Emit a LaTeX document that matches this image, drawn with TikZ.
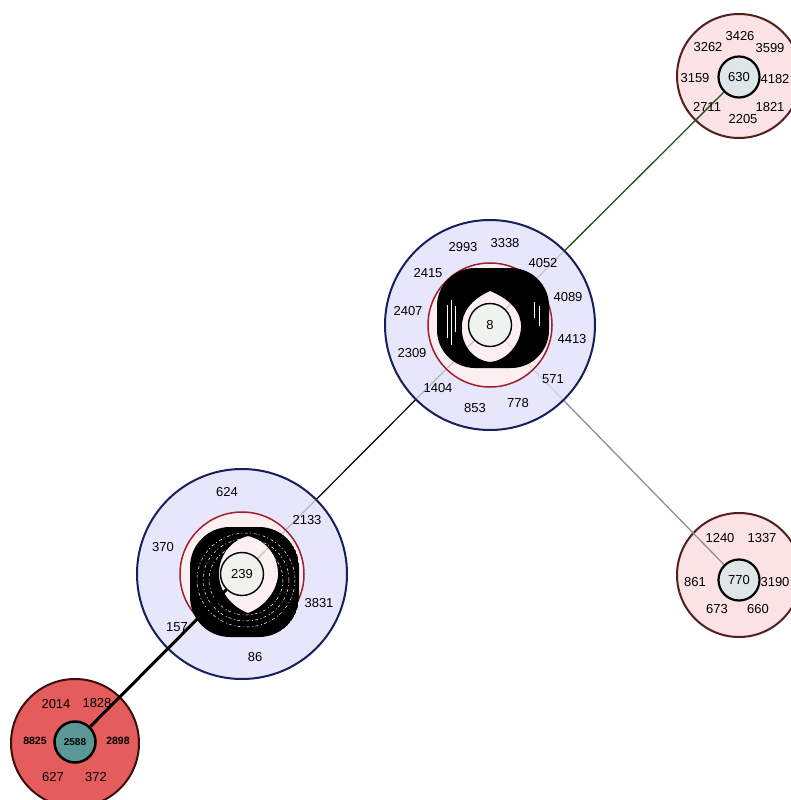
\documentclass[tikz,border=0pt]{standalone}
\usepackage{fontspec}
\setmainfont{Liberation Sans}
\pgfdeclarelayer{pinkl}
\pgfdeclarelayer{linel}
\pgfdeclarelayer{bluel}
\pgfdeclarelayer{topl}
\pgfsetlayers{pinkl,linel,bluel,topl,main}
\definecolor{bluefill}{RGB}{226,226,250}
\definecolor{blueedge}{RGB}{25,30,95}
\definecolor{ringedge}{RGB}{160,30,45}
\definecolor{ringfill}{RGB}{252,236,238}
\definecolor{pinkfill}{RGB}{250,226,229}
\definecolor{pinkedge}{RGB}{85,30,30}
\definecolor{corefill}{RGB}{222,230,232}
\definecolor{corepale}{RGB}{238,243,238}
\definecolor{redfill}{RGB}{228,92,92}
\definecolor{rededge}{RGB}{60,15,15}
\definecolor{tealfill}{RGB}{90,152,152}
\definecolor{greenline}{RGB}{30,80,30}
\definecolor{grayline}{RGB}{150,140,140}
\tikzset{
  core/.style={circle, draw=black, line width=1.4pt, minimum size=43pt, inner sep=0pt, fill=corepale, font=\fontsize{13}{14}\selectfont},
  pcore/.style={circle, draw=black, line width=2.2pt, minimum size=41pt, inner sep=0pt, fill=corefill, font=\fontsize{13}{14}\selectfont},
  pinkcl/.style={circle, draw=pinkedge, line width=2pt, minimum size=124pt, inner sep=0pt, fill=pinkfill},
  blueout/.style={circle, draw=blueedge, line width=2pt, minimum size=210pt, inner sep=0pt},
  ringout/.style={circle, draw=ringedge, line width=1.5pt, minimum size=124pt, inner sep=0pt},
  lab/.style={inner sep=0pt, font=\fontsize{13}{14}\selectfont},
  smudge/.style={inner sep=0pt, font=\bfseries\fontsize{10.5}{12}\selectfont},
  blob/.style={fill=black, even odd rule},
  fleck/.style={draw=white, line width=0.7pt},
}
\begin{document}
\begin{tikzpicture}[x=1pt,y=-1pt]
\useasboundingbox (0,0) rectangle (791,800);

% core circles
\node[core] (i8) at (490,325) {8};
\node[core] (i239) at (242,574) {239};
\node[pcore] (i630) at (739,77) {630};
\node[pcore] (i770) at (739,580) {770};
\node[pcore, fill=tealfill, line width=2.5pt] (ired) at (75,742) {\bfseries\fontsize{10}{12}\selectfont 2588};

% pink clusters
\begin{pgfonlayer}{pinkl}
\fill[white] (0,0) rectangle (791,800);
\node[pinkcl] (o630) at (739,76) {};
\node[pinkcl] (o770) at (739,575) {};
\node[pinkcl, fill=redfill, draw=rededge, minimum size=128pt] (ored) at (75,743) {};
\end{pgfonlayer}

% connectors under the blue clusters
\begin{pgfonlayer}{linel}
\draw[greenline, line width=1.3pt] (i630) -- (i8);
\draw[black, line width=1.2pt] (i8) -- (i239);
\draw[grayline, line width=1.3pt] (i8) -- (i770);
\end{pgfonlayer}

% blue clusters
\begin{pgfonlayer}{bluel}
\foreach \cx/\cy in {490/325, 242/574}{
  \fill[bluefill, fill opacity=0.8, even odd rule] (\cx,\cy) circle[radius=105] (\cx,\cy) circle[radius=62];
  \fill[ringfill, fill opacity=0.8] (\cx,\cy) circle[radius=62];
}
\node[blueout] (b8) at (490,325) {};
\node[ringout] (r8) at (490,325) {};
\node[blueout] (b239) at (242,574) {};
\node[ringout] (r239) at (242,574) {};
% blob of cluster 8
\path[blob] [rounded corners=38pt] (437,268) rectangle (549,368) [sharp corners]
  (490,291) .. controls (510,299) and (522,312) .. (521,328)
  .. controls (520,346) and (505,361) .. (490,362)
  .. controls (475,361) and (461,346) .. (462,328)
  .. controls (461,312) and (472,299) .. (490,291);
\foreach \x/\a/\b in {447/305/338, 451/300/345, 455/306/332, 534/302/318, 539/306/326}
  \draw[fleck] (\x,\a) -- (\x,\b);
% blob of cluster 239
\begin{scope}
\clip[rounded corners=40pt] (190,527) rectangle (299,637);
\path[blob] [rounded corners=40pt] (190,527) rectangle (299,637) [sharp corners]
  (248,536) .. controls (266,540) and (279,556) .. (278,576)
  .. controls (276,594) and (262,608) .. (248,613)
  .. controls (234,608) and (220,594) .. (219,576)
  .. controls (218,556) and (231,540) .. (248,536);
\foreach \r in {37,43,49}
  \draw[white, line width=0.5pt, dash pattern=on 3pt off 2pt on 1pt off 3pt] (246,580) ellipse[x radius=\r, y radius=\r-2];
\end{scope}
\end{pgfonlayer}

% connector over cluster 239
\begin{pgfonlayer}{topl}
\draw[black, line width=3pt] (i239) -- (ired);
\end{pgfonlayer}

% labels of cluster 8
\foreach \t/\x/\y [count=\i] in {2993/463/247, 3338/505/243, 4052/543/263, 2415/428/273, 4089/568/297, 2407/408/311, 4413/572/339, 2309/412/353, 571/553/379, 1404/438/388, 853/475/408, 778/518/403}
  \node[lab] (l8n\i) at (\x,\y) {\t};
% labels of cluster 239
\foreach \t/\x/\y [count=\i] in {624/227/492, 2133/307/520, 370/163/547, 3831/319/603, 157/177/627, 86/255/657}
  \node[lab] (l239n\i) at (\x,\y) {\t};
% labels of cluster 630
\foreach \t/\x/\y [count=\i] in {3426/740/36, 3262/708/47, 3599/770/48, 3159/695/78, 4182/775/79, 2711/707/107, 1821/770/107, 2205/743/119}
  \node[lab] (l630n\i) at (\x,\y) {\t};
% labels of cluster 770
\foreach \t/\x/\y [count=\i] in {1240/720/538, 1337/762/538, 861/695/582, 3190/775/582, 673/717/609, 660/758/609}
  \node[lab] (l770n\i) at (\x,\y) {\t};
% labels of the red cluster
\foreach \t/\x/\y [count=\i] in {2014/56/704, 1828/97/703, 627/53/777, 372/96/777}
  \node[lab] (lredn\i) at (\x,\y) {\t};
\node[smudge] (lreds1) at (35,741) {8825};
\node[smudge] (lreds2) at (118,741) {2898};
\end{tikzpicture}
\end{document}
